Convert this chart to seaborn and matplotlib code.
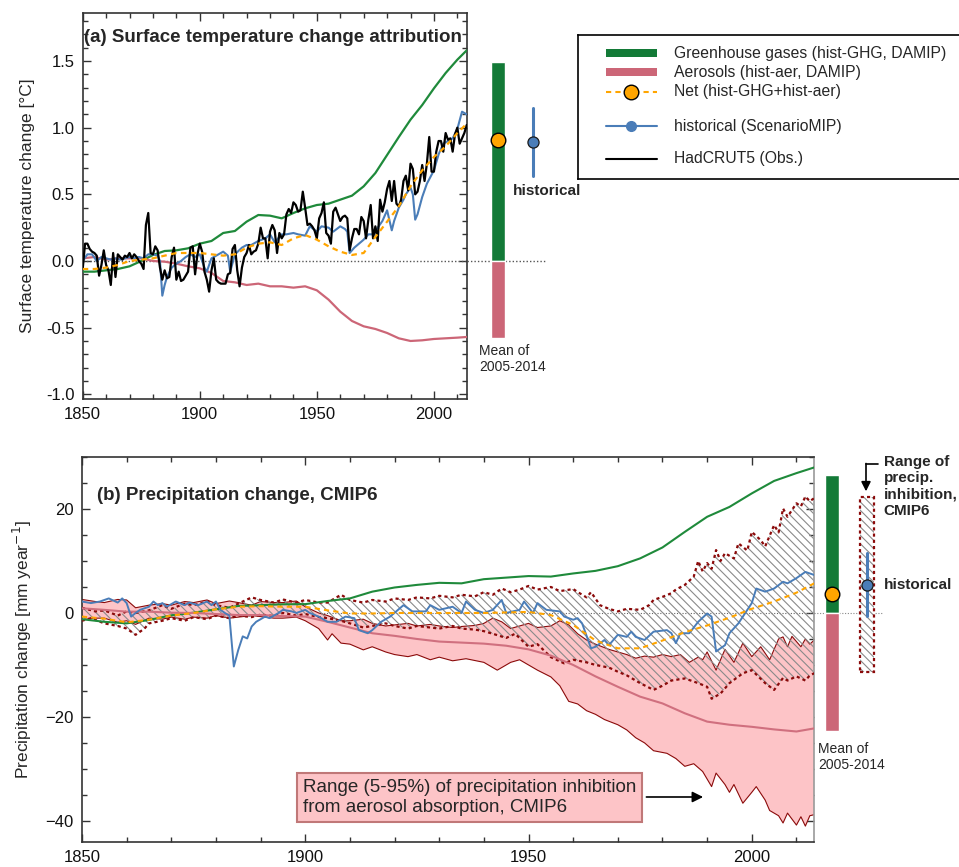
import numpy as np
import pandas as pd
import matplotlib
matplotlib.use("Agg")
import matplotlib.pyplot as plt
from matplotlib.ticker import MultipleLocator
from matplotlib.patches import Rectangle
import seaborn as sns

# ---------------- DATA ----------------
years5 = [1850, 1855, 1860, 1865, 1870, 1875, 1880, 1885, 1890, 1895, 1900, 1905, 1910,
          1915, 1920, 1925, 1930, 1935, 1940, 1945, 1950, 1955, 1960, 1965, 1970, 1975,
          1980, 1985, 1990, 1995, 2000, 2005, 2010, 2014]

# (a) temperature
ghg_temp = [-0.08, -0.08, -0.07, -0.06, -0.04, 0.0, 0.045, 0.075, 0.08, 0.095, 0.13, 0.15, 0.21,
            0.225, 0.295, 0.345, 0.34, 0.32, 0.36, 0.395, 0.42, 0.43, 0.46, 0.49, 0.56, 0.66,
            0.795, 0.93, 1.06, 1.17, 1.295, 1.41, 1.51, 1.58]
aer_temp = [0.02, 0.03, 0.01, 0.02, 0.02, 0.02, 0.0, -0.005, -0.02, -0.04, -0.055, -0.09, -0.15,
            -0.16, -0.18, -0.17, -0.19, -0.19, -0.2, -0.19, -0.22, -0.29, -0.38, -0.45, -0.49, -0.51,
            -0.54, -0.58, -0.6, -0.595, -0.585, -0.58, -0.575, -0.57]
net_temp = [-0.06, -0.06, -0.05, -0.03, 0.0, 0.01, 0.02, 0.04, 0.06, 0.06, 0.06, 0.05, 0.04,
            0.05, 0.1, 0.13, 0.14, 0.12, 0.17, 0.195, 0.16, 0.11, 0.07, 0.045, 0.06, 0.18,
            0.295, 0.41, 0.56, 0.68, 0.78, 0.86, 0.96, 1.03]

hist_temp_years = [1850, 1852, 1854, 1856, 1858, 1860, 1862, 1864, 1866, 1868, 1870, 1872, 1874, 1876,
                   1878, 1880, 1882, 1883, 1884, 1885, 1886, 1888, 1890, 1892, 1894, 1896, 1898, 1900,
                   1902, 1903, 1905, 1908, 1910, 1912, 1913, 1915, 1918, 1920, 1922, 1925, 1928, 1930,
                   1932, 1935, 1937, 1940, 1942, 1945, 1947, 1950, 1952, 1955, 1957, 1960, 1962, 1963,
                   1964, 1965, 1966, 1968, 1970, 1972, 1974, 1976, 1978, 1980, 1982, 1983, 1985, 1987,
                   1988, 1990, 1991, 1992, 1993, 1995, 1997, 2000, 2002, 2004, 2006, 2008, 2010, 2012,
                   2013, 2014]
hist_temp = [0.0, 0.05, 0.05, 0.0, 0.03, 0.02, 0.01, 0.02, 0.01, 0.02, 0.03, 0.02, 0.03, 0.02,
             0.05, 0.05, 0.04, 0.0, -0.26, -0.18, -0.12, -0.05, -0.02, 0.0, 0.03, 0.05, 0.03, 0.05,
             -0.05, -0.08, 0.02, 0.05, 0.07, 0.04, -0.08, 0.05, 0.1, 0.12, 0.12, 0.15, 0.17, 0.2,
             0.14, 0.2, 0.2, 0.21, 0.2, 0.19, 0.26, 0.22, 0.26, 0.25, 0.22, 0.26, 0.24, 0.22,
             0.06, 0.08, 0.1, 0.13, 0.16, 0.2, 0.2, 0.25, 0.3, 0.38, 0.23, 0.3, 0.4, 0.46,
             0.5, 0.55, 0.5, 0.31, 0.35, 0.48, 0.58, 0.68, 0.8, 0.88, 0.9, 0.92, 0.99, 1.12,
             1.11, 1.1]

obs_years = list(range(1850, 2015))
obs_temp = [-0.06, 0.13, 0.13, 0.09, 0.07, 0.06, 0.04, -0.11, -0.03, 0.08,
            -0.03, -0.07, -0.18, 0.06, -0.12, 0.05, 0.03, 0.01, 0.04, 0.03,
            0.06, 0.02, 0.05, 0.03, 0.0, -0.02, -0.06, 0.27, 0.36, 0.06,
            0.05, 0.11, 0.08, -0.05, -0.14, -0.07, -0.13, -0.12, 0.03, 0.1,
            -0.14, -0.08, -0.15, -0.14, -0.11, -0.08, 0.1, 0.11, -0.1, 0.05,
            0.13, 0.07, -0.08, -0.14, -0.23, -0.07, 0.02, -0.14, -0.16, -0.17,
            -0.17, -0.17, -0.1, -0.09, 0.09, 0.12, -0.07, -0.19, -0.05, 0.03,
            0.06, 0.12, 0.05, 0.07, 0.08, 0.13, 0.25, 0.17, 0.17, 0.02,
            0.22, 0.27, 0.23, 0.06, 0.21, 0.17, 0.2, 0.35, 0.39, 0.36,
            0.44, 0.42, 0.37, 0.38, 0.52, 0.4, 0.27, 0.28, 0.26, 0.23,
            0.17, 0.32, 0.36, 0.44, 0.21, 0.19, 0.13, 0.37, 0.4, 0.35,
            0.3, 0.33, 0.34, 0.32, 0.08, 0.17, 0.24, 0.24, 0.2, 0.33,
            0.3, 0.17, 0.31, 0.42, 0.17, 0.26, 0.15, 0.46, 0.37, 0.44,
            0.54, 0.6, 0.45, 0.6, 0.43, 0.41, 0.46, 0.6, 0.64, 0.53,
            0.73, 0.69, 0.5, 0.52, 0.6, 0.72, 0.6, 0.73, 0.93, 0.67,
            0.67, 0.82, 0.9, 0.9, 0.82, 0.96, 0.91, 0.92, 0.82, 0.95,
            1.0, 0.88, 0.92, 0.96, 1.02]

# mean of 2005-2014 (panel a)
ghg_temp_mean = 1.49
aer_temp_mean = -0.58
net_temp_mean = 0.91
hist_temp_mean = 0.89
hist_temp_range = [0.64, 1.145]

# (b) precipitation
ghg_prec = [-1.2, -1.7, -2.0, -1.35, -0.45, 0.06, 0.7, 1.35, 1.5, 1.67, 1.7, 2.3, 2.8,
            4.1, 4.9, 5.4, 5.8, 5.7, 6.5, 6.8, 7.1, 7.0, 7.6, 8.1, 9.0, 10.5,
            12.6, 15.6, 18.5, 20.4, 23.0, 25.4, 26.9, 28.0]
aer_prec = [0.9, 0.6, 0.25, 0.25, 0.05, 0.0, -0.2, -0.4, -0.4, -0.6, -0.7, -1.7, -2.8,
            -3.9, -4.4, -5.0, -5.5, -5.7, -5.9, -6.3, -7.0, -8.2, -10.0, -12.2, -14.2, -16.1,
            -17.4, -19.3, -20.9, -21.5, -21.9, -22.4, -22.8, -22.2]
net_prec = [-0.7, -1.1, -1.8, -1.3, -0.5, 0.0, 0.7, 1.2, 1.3, 1.2, 1.2, 0.5, -0.1,
            -0.1, 0.0, 0.0, 0.0, 0.0, 0.0, 0.1, 0.2, -0.4, -2.3, -5.3, -6.8, -6.8,
            -5.3, -3.7, -2.4, -0.9, 0.8, 2.2, 3.9, 5.7]

hist_prec_years = [1850, 1852, 1854, 1856, 1858, 1859, 1860, 1861, 1862, 1863, 1865, 1866, 1867, 1868,
                   1869, 1871, 1873, 1874, 1876, 1878, 1879, 1880, 1881, 1882, 1883, 1884, 1885, 1886,
                   1887, 1888, 1889, 1891, 1892, 1894, 1895, 1897, 1898, 1900, 1901, 1903, 1905, 1907,
                   1909, 1911, 1912, 1914, 1915, 1917, 1919, 1922, 1924, 1927, 1928, 1930, 1933, 1935,
                   1936, 1938, 1940, 1942, 1944, 1945, 1948, 1949, 1951, 1952, 1954, 1957, 1958, 1960,
                   1961, 1962, 1964, 1965, 1967, 1968, 1970, 1972, 1973, 1974, 1976, 1978, 1981, 1982,
                   1983, 1984, 1986, 1988, 1990, 1991, 1992, 1994, 1995, 1997, 2000, 2001, 2003, 2004,
                   2005, 2007, 2008, 2010, 2012, 2014]
hist_prec = [2.2, 1.9, 2.2, 2.8, 2.0, 2.8, 1.9, -0.7, 0.0, 0.6, 1.2, 2.2, 1.5, 1.9,
             1.2, 2.2, 1.5, 2.0, 1.5, 2.2, 1.5, 2.2, 0.6, 0.0, -0.5, -10.3, -7.1, -4.5,
             -4.9, -2.6, -1.7, -0.7, -1.0, 0.0, 0.6, 0.3, 0.0, 0.6, 0.0, -0.7, -1.7, -1.7,
             -0.7, -1.0, -3.3, -3.9, -3.3, -1.7, -0.7, 1.5, 0.3, 0.3, 1.5, 0.6, 1.2, 0.0,
             2.2, 0.6, 0.0, 0.6, 2.5, 0.0, 0.6, 2.2, 0.0, 1.9, 0.6, 0.3, -0.7, -1.3,
             -1.0, -2.0, -6.8, -6.5, -5.2, -6.2, -4.2, -4.6, -3.6, -4.6, -5.2, -3.6, -3.3, -3.9,
             -5.8, -3.9, -3.9, -1.7, -0.1, -0.7, -7.4, -6.2, -3.9, -2.0, 1.9, 4.7, 4.1, 4.4,
             4.7, 6.0, 5.7, 6.7, 7.9, 7.3]

# range (5-95%) of precipitation inhibition from aerosol absorption (pink band)
pink_up_years = [1850, 1853, 1855, 1858, 1860, 1862, 1865, 1868, 1870, 1873, 1875, 1878, 1880, 1883,
                 1885, 1888, 1890, 1893, 1895, 1898, 1900, 1903, 1905, 1908, 1910, 1913, 1915, 1918,
                 1920, 1923, 1925, 1928, 1930, 1933, 1935, 1938, 1940, 1942, 1944, 1946, 1948, 1950,
                 1952, 1955, 1957, 1959, 1961, 1963, 1965, 1968, 1970, 1972, 1974, 1976, 1978, 1980,
                 1982, 1984, 1986, 1988, 1989, 1990, 1992, 1994, 1996, 1998, 2000, 2002, 2004, 2006,
                 2007, 2008, 2009, 2011, 2012, 2013, 2014]
pink_up = [2.6, 2.2, 2.0, 2.6, 2.5, 1.0, 1.5, 1.8, 1.5, 2.2, 2.0, 2.5, 1.8, 2.3,
           2.0, 1.5, 2.2, 2.0, 2.0, 2.3, 1.2, 0.0, -0.5, -1.5, -1.5, -1.2, -2.0, -2.5,
           -2.3, -2.0, -2.5, -2.2, -2.5, -2.8, -2.6, -2.4, -2.0, -1.0, -1.7, -3.0, -2.5, -2.0,
           -2.8, -2.5, -1.5, -2.3, -4.0, -5.2, -6.0, -7.0, -7.5, -8.0, -8.7, -8.3, -8.5, -8.0,
           -8.4, -8.0, -9.5, -8.5, -9.0, -7.5, -11.0, -7.0, -9.5, -5.8, -8.4, -6.5, -9.0, -5.0,
           -4.6, -6.5, -4.5, -6.5, -5.0, -6.0, -5.2]
pink_lo_years = [1850, 1853, 1855, 1858, 1860, 1862, 1865, 1868, 1870, 1873, 1875, 1878, 1880, 1883,
                 1885, 1888, 1890, 1893, 1895, 1898, 1900, 1903, 1905, 1906, 1908, 1910, 1913, 1915,
                 1918, 1920, 1923, 1925, 1928, 1930, 1933, 1936, 1940, 1943, 1946, 1948, 1950, 1952,
                 1955, 1957, 1959, 1961, 1963, 1965, 1967, 1970, 1972, 1974, 1976, 1978, 1981, 1983,
                 1985, 1987, 1989, 1991, 1992, 1994, 1995, 1996, 1998, 2000, 2001, 2003, 2004, 2006,
                 2007, 2008, 2010, 2011, 2012, 2013, 2014]
pink_lo = [-1.3, -1.0, -1.0, -1.8, -1.5, -2.2, -1.0, -1.2, -0.8, -1.2, -0.8, -1.0, -0.5, -1.0,
           -0.8, -0.5, -0.7, -1.0, -1.0, -0.8, -1.5, -3.0, -5.2, -4.0, -5.8, -6.0, -7.1, -6.5,
           -7.5, -8.0, -8.4, -8.0, -9.0, -8.5, -9.2, -8.8, -9.5, -11.0, -9.5, -9.0, -10.0, -11.0,
           -12.3, -14.0, -17.0, -17.5, -18.8, -19.5, -20.5, -21.5, -22.5, -24.0, -25.0, -26.5, -27.0, -28.0,
           -29.5, -29.0, -30.5, -33.4, -30.8, -33.0, -34.5, -33.0, -36.6, -34.5, -33.4, -36.0, -38.0, -39.0,
           -40.4, -38.5, -40.8, -39.2, -41.0, -39.0, -38.8]

# hatched range of precipitation inhibition
hat_up_years = [1850, 1853, 1855, 1858, 1860, 1862, 1865, 1868, 1870, 1873, 1875, 1878, 1880, 1883,
                1885, 1888, 1890, 1893, 1895, 1898, 1900, 1903, 1905, 1908, 1910, 1913, 1915, 1918,
                1920, 1923, 1925, 1928, 1930, 1933, 1935, 1938, 1940, 1942, 1944, 1946, 1948, 1950,
                1952, 1955, 1957, 1960, 1962, 1963, 1964, 1966, 1968, 1970, 1972, 1975, 1977, 1978,
                1980, 1982, 1983, 1985, 1987, 1988, 1989, 1990, 1991, 1992, 1993, 1994, 1996, 1997,
                1999, 2000, 2002, 2003, 2005, 2006, 2007, 2008, 2010, 2011, 2012, 2013, 2014]
hat_up = [1.0, 0.3, 0.5, -0.5, 0.3, 0.0, 0.5, 1.5, 0.8, 1.8, 1.5, 2.2, 1.5, 1.0,
          1.8, 3.0, 2.5, 2.0, 2.6, 2.0, 2.5, 2.0, 2.0, 3.5, 2.5, 2.0, 2.5, 2.2,
          2.8, 2.5, 3.0, 2.8, 3.3, 3.0, 3.5, 3.2, 4.0, 3.5, 4.7, 4.0, 4.5, 5.2,
          4.5, 5.0, 4.2, 4.6, 3.5, 3.0, 4.0, 1.5, 0.8, 0.3, 0.8, 0.6, 1.5, 2.5,
          3.1, 3.8, 4.5, 5.4, 7.0, 10.0, 8.0, 9.6, 8.5, 12.1, 10.0, 11.5, 10.5, 13.4,
          12.0, 15.6, 14.0, 12.8, 16.9, 15.5, 20.1, 18.5, 21.1, 20.5, 22.4, 21.5, 22.1]
hat_lo_years = [1850, 1852, 1855, 1858, 1860, 1862, 1864, 1865, 1868, 1870, 1873, 1875, 1878, 1880,
                1883, 1885, 1888, 1890, 1893, 1895, 1898, 1900, 1903, 1905, 1908, 1910, 1913, 1915,
                1918, 1920, 1923, 1925, 1928, 1930, 1933, 1935, 1938, 1940, 1942, 1945, 1947, 1950,
                1952, 1955, 1958, 1960, 1963, 1965, 1968, 1970, 1972, 1975, 1978, 1980, 1982, 1985,
                1988, 1990, 1991, 1993, 1995, 1998, 2000, 2003, 2005, 2007, 2008, 2010, 2012, 2013,
                2014]
hat_lo = [-1.5, -1.0, -2.0, -2.5, -3.0, -4.2, -3.0, -2.0, -1.5, -1.0, -1.5, -0.8, -1.2, -0.5,
          -1.0, -0.5, -0.8, -0.3, -0.6, 0.0, -0.5, -0.2, -0.8, -1.0, -1.5, -2.0, -2.8, -2.5,
          -2.0, -2.5, -3.0, -2.5, -2.8, -3.0, -2.5, -3.0, -3.2, -3.5, -4.0, -4.8, -4.0, -6.5,
          -6.0, -8.5, -9.7, -9.0, -9.5, -10.0, -10.5, -11.3, -12.0, -13.5, -14.8, -14.0, -13.0, -12.6,
          -13.5, -14.2, -16.5, -15.5, -13.5, -11.6, -11.0, -13.5, -14.8, -12.5, -13.0, -12.2, -13.0, -12.0,
          -11.6]

# mean of 2005-2014 (panel b)
ghg_prec_mean = 26.5
aer_prec_mean = -22.8
net_prec_mean = 3.65
hist_prec_mean = 5.38
hist_prec_range = [-0.6, 11.5]
inhib_range = [-11.4, 22.25]

# ---------------- STYLE ----------------
sns.set_theme(style="ticks")
plt.rcParams["font.family"] = ["Liberation Sans", "DejaVu Sans"]
plt.rcParams["hatch.linewidth"] = 0.8
plt.rcParams["axes.unicode_minus"] = True

GREEN_BAR = "#137A37"
GREEN = "#1F8A3B"
ROSE = "#CC6677"
ROSE_LINE = "#D0707F"
ORANGE = "#FFA500"
BLUE = "#4A7DB8"
PINK = "#FDC4C7"
DARKRED = "#8B0A0A"
HATCH_C = "#8A8A8A"
SPINE = "#333333"

W, H = 959, 867
fig = plt.figure(figsize=(W / 100, H / 100), dpi=100)


def px_axes(x0, y0, x1, y1, **kw):
    return fig.add_axes([x0 / W, 1 - y1 / H, (x1 - x0) / W, (y1 - y0) / H], **kw)


def style_axis(ax):
    for s in ax.spines.values():
        s.set_color(SPINE)
        s.set_linewidth(1.2)
    ax.tick_params(which="both", direction="in", top=True, right=True,
                   labelsize=12, colors=SPINE, labelcolor="#111111")
    ax.tick_params(which="major", length=6, width=1, pad=6)
    ax.tick_params(which="minor", length=3.5, width=1)
    ax.grid(False)


def line(ax, x, y, **kw):
    df = pd.DataFrame({"x": x, "y": y})
    sns.lineplot(data=df, x="x", y="y", ax=ax, estimator=None, errorbar=None, **kw)


# ================= PANEL (a) =================
axA = px_axes(82.7, 13.3, 466.7, 398.7)
axA.set_xlim(1850, 2014)
axA.set_ylim(-1.033, 1.858)
axA.axhline(0, color="#555555", ls=(0, (1, 1.5)), lw=1.0, zorder=1)
line(axA, years5, ghg_temp, color=GREEN, lw=1.6, zorder=3)
line(axA, years5, aer_temp, color=ROSE, lw=1.6, zorder=3)
line(axA, hist_temp_years, hist_temp, color=BLUE, lw=1.5, zorder=4)
line(axA, obs_years, obs_temp, color="black", lw=1.6, zorder=5)
line(axA, years5, net_temp, color=ORANGE, lw=1.6, linestyle=(0, (2.5, 2.0)), zorder=6)
axA.set_xlabel("")
axA.set_ylabel("Surface temperature change [°C]", fontsize=12.5, labelpad=8)
axA.xaxis.set_major_locator(MultipleLocator(50))
axA.xaxis.set_minor_locator(MultipleLocator(10))
axA.yaxis.set_major_locator(MultipleLocator(0.5))
axA.yaxis.set_minor_locator(MultipleLocator(0.1))
axA.yaxis.set_major_formatter(matplotlib.ticker.FormatStrFormatter("%.1f"))
style_axis(axA)
axA.text(0.003, 0.9385, "(a) Surface temperature change attribution", transform=axA.transAxes,
         fontsize=13.5, fontweight="bold", va="center", ha="left")

# side bars panel (a)
sA = px_axes(466.7, 13.3, 566.7, 398.7, sharey=axA)
sA.set_xlim(0, 100)
sA.axis("off")
sA.plot([0, 78.3], [0, 0], color="#555555", ls=(0, (1, 1.5)), lw=1.0, zorder=1)
sA.bar([31], [ghg_temp_mean], width=14, color=GREEN_BAR, zorder=2)
sA.bar([31], [aer_temp_mean], width=14, color=ROSE, zorder=2)
sA.plot([31], [net_temp_mean], "o", ms=10.5, mfc=ORANGE, mec="black", mew=1.0, zorder=4)
sA.plot([66, 66], hist_temp_range, color=BLUE, lw=2.2, zorder=3)
sA.plot([66], [hist_temp_mean], "o", ms=8, mfc=BLUE, mec="#1a1a1a", mew=0.9, zorder=4)
sA.text(45.7, 0.525, "historical", fontsize=11, fontweight="bold", va="center", ha="left")
sA.text(12.3, -0.62, "Mean of\n2005-2014", fontsize=10, va="top", ha="left", linespacing=1.2)

# legend box (manual)
lg = px_axes(578, 35.3, 1000, 179)
lg.set_xlim(0, 422)
lg.set_ylim(143.7, 0)
lg.set_xticks([])
lg.set_yticks([])
lg.set_facecolor("white")
for s in lg.spines.values():
    s.set_color("black")
    s.set_linewidth(1.2)
lg.add_patch(Rectangle((27.7, 17.7 - 4.2), 51, 8.4, color=GREEN_BAR, lw=0))
lg.add_patch(Rectangle((27.7, 36.7 - 4.2), 51, 8.4, color=ROSE, lw=0))
lg.plot([27.7, 78.7], [56.4, 56.4], color=ORANGE, lw=1.5, ls=(0, (2.5, 2.0)))
lg.plot([53.2], [56.4], "o", ms=10.5, mfc=ORANGE, mec="black", mew=1.0)
lg.plot([27.7, 78.7], [90.7, 90.7], color=BLUE, lw=1.5)
lg.plot([53.2], [90.7], "o", ms=7, mfc=BLUE, mec=BLUE)
lg.plot([27.7, 78.7], [123.4, 123.4], color="black", lw=1.5)
leg_labels = ["Greenhouse gases (hist-GHG, DAMIP)", "Aerosols (hist-aer, DAMIP)",
              "Net (hist-GHG+hist-aer)", "historical (ScenarioMIP)", "HadCRUT5 (Obs.)"]
for lab, yy in zip(leg_labels, [17.7, 36.7, 56.4, 90.7, 123.4]):
    lg.text(96.3, yy, lab, fontsize=11.3, va="center", ha="left")

# ================= PANEL (b) =================
axB = px_axes(82, 456.7, 814.3, 841.7)
axB.set_xlim(1850, 2014)
axB.set_ylim(-44, 30.06)
axB.axhline(0, color="#666666", ls=(0, (1, 1.5)), lw=0.8, zorder=1)

# pink band
px_ = np.concatenate([pink_up_years, pink_lo_years[::-1]])
py_ = np.concatenate([pink_up, pink_lo[::-1]])
axB.fill(px_, py_, facecolor=PINK, edgecolor="none", zorder=1)
line(axB, pink_up_years, pink_up, color=DARKRED, lw=0.8, zorder=2)
line(axB, pink_lo_years, pink_lo, color=DARKRED, lw=0.8, zorder=2)

# hatched band
hx = np.concatenate([hat_up_years, hat_lo_years[::-1]])
hy = np.concatenate([hat_up, hat_lo[::-1]])
axB.fill(hx, hy, facecolor="none", edgecolor=HATCH_C, hatch="\\\\\\\\", lw=0, zorder=2)
line(axB, hat_up_years, hat_up, color=DARKRED, lw=1.6, linestyle=(0, (1.4, 1.4)), zorder=3)
line(axB, hat_lo_years, hat_lo, color=DARKRED, lw=1.6, linestyle=(0, (1.4, 1.4)), zorder=3)

line(axB, years5, ghg_prec, color=GREEN, lw=1.5, zorder=4)
line(axB, years5, aer_prec, color=ROSE_LINE, lw=1.5, zorder=4)
line(axB, hist_prec_years, hist_prec, color=BLUE, lw=1.4, zorder=5)
line(axB, years5, net_prec, color=ORANGE, lw=1.5, linestyle=(0, (2.5, 2.0)), zorder=6)

axB.set_xlabel("")
axB.set_ylabel("Precipitation change [mm year$^{-1}$]", fontsize=12.5, labelpad=8)
axB.xaxis.set_major_locator(MultipleLocator(50))
axB.xaxis.set_minor_locator(MultipleLocator(10))
axB.yaxis.set_major_locator(MultipleLocator(20))
axB.yaxis.set_minor_locator(MultipleLocator(5))
style_axis(axB)
axB.spines["right"].set_color("#9a9a9a")
axB.text(0.02, 0.9005, "(b) Precipitation change, CMIP6", transform=axB.transAxes,
         fontsize=13.5, fontweight="bold", va="center", ha="left")

axB.text(1899.5, -35.5, "Range (5-95%) of precipitation inhibition\nfrom aerosol absorption, CMIP6",
         fontsize=13.5, va="center", ha="left", linespacing=1.25, zorder=8,
         bbox=dict(boxstyle="square,pad=0.3", fc=PINK, ec="#C07878", lw=1.5))
axB.annotate("", xy=(1989.1, -35.4), xytext=(1976.4, -35.4),
             arrowprops=dict(arrowstyle="-|>", color="black", lw=1.2, mutation_scale=16,
                             shrinkA=0, shrinkB=0), zorder=8)

# side bars panel (b)
sB = px_axes(814.3, 456.7, 959, 841.7, sharey=axB)
sB.set_xlim(0, 144.7)
sB.axis("off")
sB.plot([0, 68.7], [0, 0], color="#888888", ls=(0, (1, 1.5)), lw=0.8, zorder=1)
sB.bar([17.7], [ghg_prec_mean], width=14, color=GREEN_BAR, zorder=2)
sB.bar([17.7], [aer_prec_mean], width=14, color=ROSE, zorder=2)
sB.plot([17.7], [net_prec_mean], "o", ms=10.5, mfc=ORANGE, mec="black", mew=1.0, zorder=4)
sB.bar([52.9], [inhib_range[1] - inhib_range[0]], bottom=inhib_range[0], width=14.3,
       color="white", edgecolor=HATCH_C, hatch="\\\\\\\\", lw=0, zorder=2)
sB.bar([52.9], [inhib_range[1] - inhib_range[0]], bottom=inhib_range[0], width=14.3,
       fill=False, edgecolor=DARKRED, lw=1.6, linestyle=(0, (1.4, 1.4)), zorder=3)
sB.plot([52.4, 52.4], hist_prec_range, color=BLUE, lw=2.2, zorder=4)
sB.plot([52.4], [hist_prec_mean], "o", ms=8, mfc=BLUE, mec="#1a1a1a", mew=0.9, zorder=5)
sB.text(69.5, hist_prec_mean, "historical", fontsize=11, fontweight="bold", va="center", ha="left")
sB.text(69.3, 30.4, "Range of\nprecip.\ninhibition,\nCMIP6", fontsize=11, fontweight="bold",
        va="top", ha="left", linespacing=1.2)
sB.plot([64.0, 51.7], [28.65, 28.65], color="black", lw=1.2, clip_on=False)
sB.annotate("", xy=(51.7, 23.4), xytext=(51.7, 28.75),
            arrowprops=dict(arrowstyle="-|>", color="black", lw=1.2, mutation_scale=14,
                            shrinkA=0, shrinkB=0))
sB.text(3.7, -24.8, "Mean of\n2005-2014", fontsize=10, va="top", ha="left", linespacing=1.2)

fig.savefig("out.png", dpi=100)
